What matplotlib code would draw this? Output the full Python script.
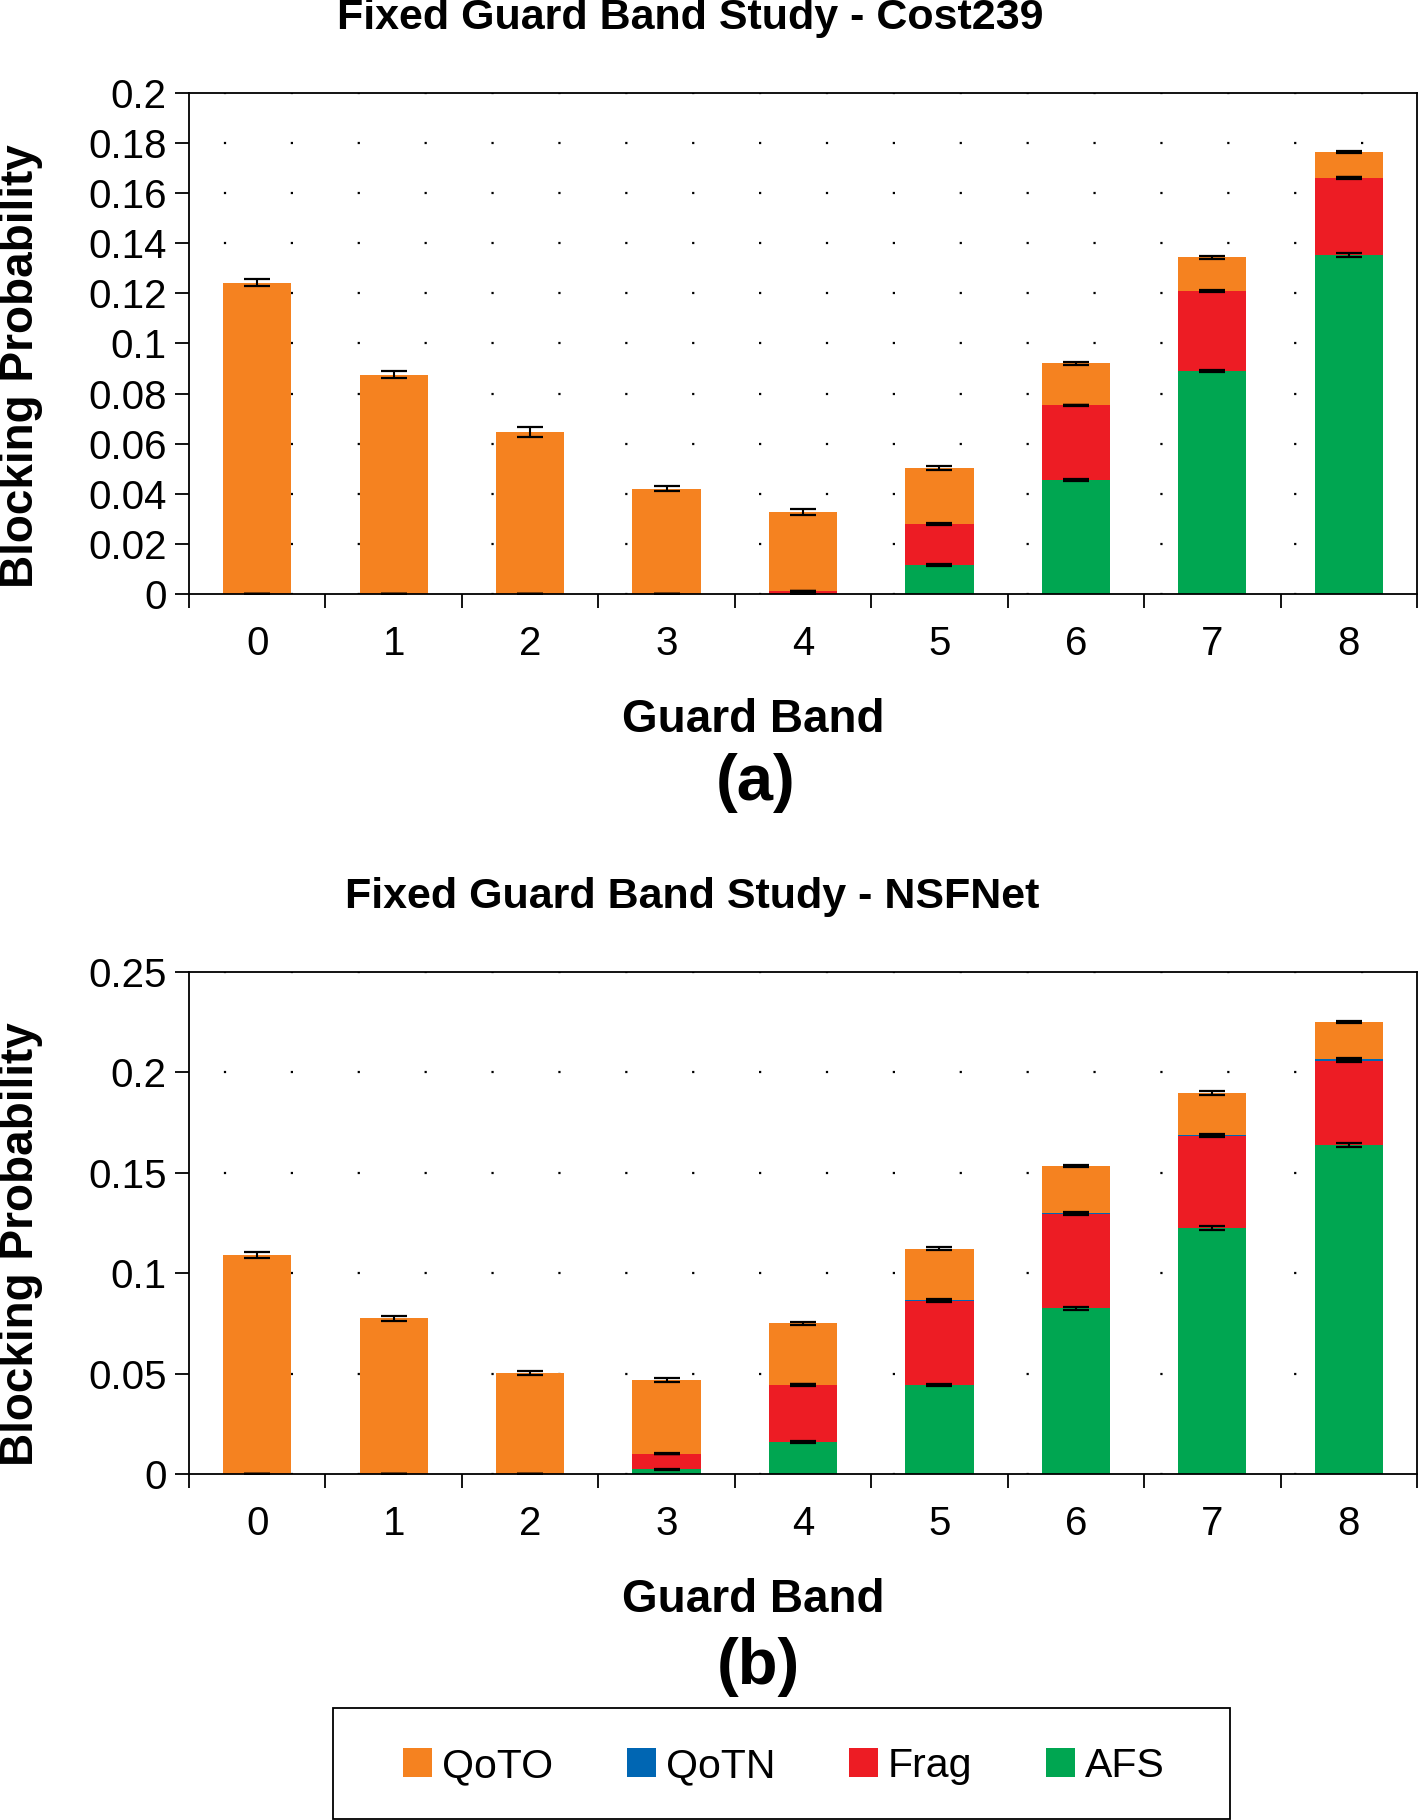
import numpy as np
import matplotlib
matplotlib.use('Agg')
import matplotlib.pyplot as plt
from matplotlib.patches import Rectangle
from matplotlib.ticker import FuncFormatter

plt.rcParams['font.family'] = ['Liberation Sans', 'DejaVu Sans']

# guard band values on the x axis
guard_bands = ['0', '1', '2', '3', '4', '5', '6', '7', '8']
series_names = ['QoTO', 'QoTN', 'Frag', 'AFS']
colors = {'QoTO': '#F58220', 'QoTN': '#0066B3', 'Frag': '#ED1C24', 'AFS': '#00A651'}

# Cost239 - blocking probability per cause (stacked: AFS, Frag, QoTN, QoTO)
cost_afs = [0, 0, 0, 0, 0, 0.0115, 0.0456, 0.0890, 0.1353]
cost_frag = [0, 0, 0, 0, 0.0010, 0.0165, 0.0297, 0.0318, 0.0307]
cost_qotn = [0, 0, 0, 0, 0, 0, 0, 0.0002, 0.0002]
cost_qoto = [0.1243, 0.0876, 0.0647, 0.0420, 0.0317, 0.0224, 0.0169, 0.0134, 0.0103]
cost_afs_err = [0, 0, 0, 0, 0, 0.0005, 0.0005, 0.0005, 0.0007]
cost_frag_err = [0, 0, 0, 0, 0.0003, 0.0003, 0.0003, 0.0003, 0.0003]
cost_qotn_err = [0, 0, 0, 0, 0, 0, 0, 0.0002, 0.0002]
cost_qoto_err = [0.0014, 0.0015, 0.0021, 0.0010, 0.0012, 0.0007, 0.0006, 0.0007, 0.0005]

# NSFNet
nsf_afs = [0, 0, 0, 0.0024, 0.0160, 0.0444, 0.0825, 0.1224, 0.1638]
nsf_frag = [0, 0, 0, 0.0078, 0.0284, 0.0420, 0.0470, 0.0458, 0.0420]
nsf_qotn = [0, 0, 0, 0, 0.0001, 0.0003, 0.0006, 0.0006, 0.0008]
nsf_qoto = [0.1090, 0.0776, 0.0502, 0.0366, 0.0305, 0.0256, 0.0233, 0.0209, 0.0186]
nsf_afs_err = [0, 0, 0, 0.0002, 0.0004, 0.0006, 0.0008, 0.0009, 0.0009]
nsf_frag_err = [0, 0, 0, 0.0003, 0.0004, 0.0005, 0.0004, 0.0004, 0.0005]
nsf_qotn_err = [0, 0, 0, 0, 0.0002, 0.0003, 0.0004, 0.0004, 0.0005]
nsf_qoto_err = [0.0015, 0.0012, 0.0010, 0.0009, 0.0008, 0.0009, 0.0006, 0.0008, 0.0006]

W, H = 1418, 1820
fig = plt.figure(figsize=(W / 100, H / 100), dpi=100)


def draw(ax, segs, errs, ymax, ystep):
    x = np.arange(len(guard_bands))
    bottom = np.zeros(len(x))
    handles = {}
    # bottom to top: AFS, Frag, QoTN, QoTO
    for name in ['AFS', 'Frag', 'QoTN', 'QoTO']:
        vals = np.array(segs[name])
        h = ax.bar(x, vals, 0.5, bottom=bottom, color=colors[name], zorder=2,
                   linewidth=0)
        handles[name] = h
        bottom = bottom + vals
        ax.errorbar(x, bottom, yerr=errs[name], fmt='none', ecolor='black',
                    elinewidth=1.5, capsize=9.5, capthick=1.6, zorder=4)
    ax.set_xlim(-0.5, len(x) - 0.5)
    ax.set_ylim(0, ymax)
    ax.set_yticks(np.arange(0, ymax + ystep / 2, ystep))
    ax.yaxis.set_major_formatter(FuncFormatter(lambda v, p: '{:g}'.format(round(v, 3))))
    ax.set_xticks(np.arange(-0.5, len(x)), [''] * (len(x) + 1))
    ax.set_xticks(x, guard_bands, minor=True)
    ax.tick_params(axis='x', which='major', length=10, width=1.3, direction='out')
    ax.tick_params(axis='x', which='minor', length=0, pad=22, labelsize=29)
    ax.tick_params(axis='y', length=10, width=1.3, direction='out', pad=6, labelsize=29)
    ax.yaxis.grid(True, linestyle=(14.4, (1, 29.1)), linewidth=1.6, color='black', zorder=0)
    ax.set_axisbelow(True)
    for s in ax.spines.values():
        s.set_linewidth(1.3)
    return handles


ax1 = fig.add_axes([189 / W, 1 - 594 / H, 1228 / W, 501 / H])
h = draw(ax1,
         {'AFS': cost_afs, 'Frag': cost_frag, 'QoTN': cost_qotn, 'QoTO': cost_qoto},
         {'AFS': cost_afs_err, 'Frag': cost_frag_err, 'QoTN': cost_qotn_err, 'QoTO': cost_qoto_err},
         0.2, 0.02)

ax2 = fig.add_axes([189 / W, 1 - 1474 / H, 1228 / W, 502 / H])
draw(ax2,
     {'AFS': nsf_afs, 'Frag': nsf_frag, 'QoTN': nsf_qotn, 'QoTO': nsf_qoto},
     {'AFS': nsf_afs_err, 'Frag': nsf_frag_err, 'QoTN': nsf_qotn_err, 'QoTO': nsf_qoto_err},
     0.25, 0.05)

# titles and labels
fig.text(690 / W, 1 - 18 / H, 'Fixed Guard Band Study - Cost239', ha='center', va='center',
         fontsize=31, fontweight='bold')
fig.text(692 / W, 1 - 897 / H, 'Fixed Guard Band Study - NSFNet', ha='center', va='center',
         fontsize=31, fontweight='bold')
fig.text(753 / W, 1 - 720 / H, 'Guard Band', ha='center', va='center', fontsize=33, fontweight='bold')
fig.text(756 / W, 1 - 783 / H, '(a)', ha='center', va='center', fontsize=47, fontweight='bold')
fig.text(753 / W, 1 - 1600 / H, 'Guard Band', ha='center', va='center', fontsize=33, fontweight='bold')
fig.text(758 / W, 1 - 1667 / H, '(b)', ha='center', va='center', fontsize=47, fontweight='bold')
fig.text(21 / W, 1 - 366 / H, 'Blocking Probability', ha='center', va='center', rotation=90,
         fontsize=33, fontweight='bold')
fig.text(21 / W, 1 - 1244 / H, 'Blocking Probability', ha='center', va='center', rotation=90,
         fontsize=33, fontweight='bold')

# legend with a hand drawn frame
fig.patches.append(Rectangle((333 / W, 1 / H), 897 / W, 111 / H, transform=fig.transFigure,
                             fill=False, edgecolor='black', linewidth=1.3))
fig.legend([h[n] for n in series_names], series_names, ncol=4, loc='center',
           bbox_to_anchor=(784 / W, 1 - 1766 / H), frameon=False, fontsize=29.5,
           handlelength=0.7, handleheight=0.7, handletextpad=0.25, columnspacing=1.8)

fig.savefig('out.png', dpi=100)
